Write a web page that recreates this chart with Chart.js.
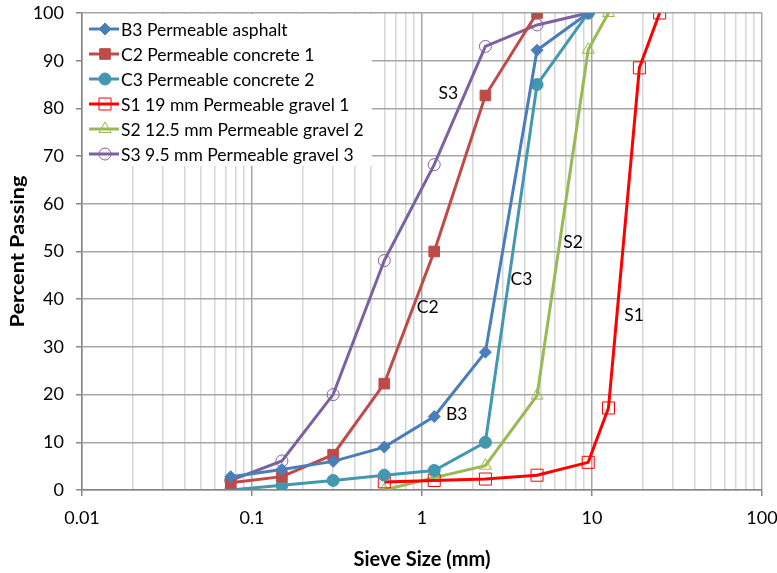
<!DOCTYPE html>
<html>
<head>
<meta charset="utf-8">
<script src="https://cdn.jsdelivr.net/npm/chart.js@4.4.1/dist/chart.umd.min.js"></script>
<style>
  body { margin: 0; background: #fff; }
</style>
</head>
<body>
<canvas id="gradation" width="777" height="573"></canvas>
<script>
// Sieve sizes (mm) and percent passing
const sieveB3 = [0.075, 0.15, 0.3, 0.6, 1.18, 2.36, 4.75, 9.5];
const passB3 = [2.8, 4.3, 6, 9, 15.4, 28.9, 92.2, 100];

const sieveC2 = [0.075, 0.15, 0.3, 0.6, 1.18, 2.36, 4.75];
const passC2 = [1.5, 2.8, 7.4, 22.3, 50, 82.7, 100];

const sieveC3 = [0.075, 0.15, 0.3, 0.6, 1.18, 2.36, 4.75, 9.5];
const passC3 = [0, 1, 2, 3.1, 4.1, 10, 85, 100];

const sieveS1 = [0.6, 1.18, 2.36, 4.75, 9.5, 12.5, 19, 25];
const passS1 = [1.7, 2, 2.3, 3.1, 5.8, 17.2, 88.5, 100];

const sieveS2 = [0.6, 1.18, 2.36, 4.75, 9.5, 12.5];
const passS2 = [0, 2.6, 5.1, 19.8, 92.3, 100];

const sieveS3 = [0.075, 0.15, 0.3, 0.6, 1.18, 2.36, 4.75, 9.5];
const passS3 = [2, 6.1, 20, 48.1, 68.2, 93, 97.5, 100];

const seriesNames = [
  'B3 Permeable asphalt',
  'C2 Permeable concrete 1',
  'C3 Permeable concrete 2',
  'S1 19 mm Permeable gravel 1',
  'S2 12.5 mm Permeable gravel 2',
  'S3 9.5 mm Permeable gravel 3'
];

const xDecades = [0.01, 0.1, 1, 10, 100];
const yTicks = [0, 10, 20, 30, 40, 50, 60, 70, 80, 90, 100];

const xTitle = 'Sieve Size (mm)';
const yTitle = 'Percent Passing';

// curve labels written on the plot
const curveLabels = [
  { text: 'S3', x: 1.43, y: 83.2 },
  { text: 'C2', x: 1.08, y: 38.2 },
  { text: 'C3', x: 3.85, y: 44.1 },
  { text: 'S2', x: 7.75, y: 51.9 },
  { text: 'S1', x: 17.7, y: 36.7 },
  { text: 'B3', x: 1.6, y: 15.8 }
];

const FONT = 'Lato, "Open Sans", sans-serif';

function pts(xs, ys) {
  return xs.map((x, i) => ({ x: x, y: ys[i] }));
}

const datasets = [
  { label: seriesNames[0], data: pts(sieveB3, passB3), borderColor: '#4a7ebb',
    pointStyle: 'rectRot', pointRadius: 6, pointBackgroundColor: '#4a7ebb', pointBorderColor: '#4a7ebb', pointBorderWidth: 1 },
  { label: seriesNames[1], data: pts(sieveC2, passC2), borderColor: '#be4b48',
    pointStyle: 'rect', pointRadius: 7.5, pointBackgroundColor: '#be4b48', pointBorderColor: '#be4b48', pointBorderWidth: 1 },
  { label: seriesNames[2], data: pts(sieveC3, passC3), borderColor: '#4198af',
    pointStyle: 'circle', pointRadius: 6, pointBackgroundColor: '#4198af', pointBorderColor: '#4198af', pointBorderWidth: 1 },
  { label: seriesNames[3], data: pts(sieveS1, passS1), borderColor: '#ff0000',
    pointStyle: 'rect', pointRadius: 8.5, pointBackgroundColor: 'rgba(0,0,0,0)', pointBorderColor: '#ff0000', pointBorderWidth: 1 },
  { label: seriesNames[4], data: pts(sieveS2, passS2), borderColor: '#98b954',
    pointStyle: 'triangle', pointRadius: 7, pointBackgroundColor: 'rgba(0,0,0,0)', pointBorderColor: '#98b954', pointBorderWidth: 1 },
  { label: seriesNames[5], data: pts(sieveS3, passS3), borderColor: '#7d60a0',
    pointStyle: 'circle', pointRadius: 6, pointBackgroundColor: 'rgba(0,0,0,0)', pointBorderColor: '#7d60a0', pointBorderWidth: 1 }
];
datasets.forEach(d => { d.borderWidth = 3; d.tension = 0; d.fill = false; });

// legend drawn inside the plot, on a white box over the grid
const insideLegend = {
  id: 'insideLegend',
  beforeDatasetsDraw(chart) {
    const ctx = chart.ctx;
    const a = chart.chartArea;
    ctx.save();
    ctx.fillStyle = '#fff';
    ctx.fillRect(a.left + 1, a.top + 1, 289, 152);
    chart.data.datasets.forEach((d, i) => {
      const y = a.top + 16 + i * 25;
      ctx.strokeStyle = d.borderColor;
      ctx.lineWidth = 3;
      ctx.beginPath();
      ctx.moveTo(a.left + 7, y);
      ctx.lineTo(a.left + 37, y);
      ctx.stroke();
      ctx.fillStyle = d.pointBackgroundColor;
      ctx.strokeStyle = d.pointBorderColor;
      ctx.lineWidth = d.pointBorderWidth;
      Chart.helpers.drawPoint(ctx, {
        pointStyle: d.pointStyle, radius: d.pointRadius, rotation: 0, borderWidth: d.pointBorderWidth
      }, a.left + 23, y);
      ctx.fillStyle = '#000';
      ctx.font = '17.5px ' + FONT;
      ctx.textAlign = 'left';
      ctx.textBaseline = 'middle';
      ctx.fillText(d.label, a.left + 39, y + 1);
    });
    ctx.restore();
  }
};

// curve names and the axis titles (the y title is drawn stretched along its length)
const chartText = {
  id: 'chartText',
  afterDatasetsDraw(chart) {
    const ctx = chart.ctx;
    const a = chart.chartArea;
    ctx.save();
    ctx.fillStyle = '#000';
    ctx.font = '17.5px ' + FONT;
    ctx.textAlign = 'center';
    ctx.textBaseline = 'middle';
    curveLabels.forEach(l => {
      ctx.fillText(l.text, chart.scales.x.getPixelForValue(l.x), chart.scales.y.getPixelForValue(l.y));
    });

    ctx.font = 'bold 20px ' + FONT;
    ctx.fillText(xTitle, (a.left + a.right) / 2, 560);

    ctx.font = 'bold 18px ' + FONT;
    const w = ctx.measureText(yTitle).width;
    ctx.translate(18, (a.top + a.bottom) / 2);
    ctx.rotate(-Math.PI / 2);
    ctx.scale(152 / w, 1);
    ctx.fillText(yTitle, 0, 0);
    ctx.restore();
  }
};

const isDecade = v => xDecades.some(d => Math.abs(v - d) < d * 1e-6);

new Chart(document.getElementById('gradation'), {
  type: 'line',
  data: { datasets: datasets },
  plugins: [insideLegend, chartText],
  options: {
    responsive: false,
    animation: false,
    layout: { padding: { top: 13, right: 15, left: 0, bottom: 0 } },
    plugins: {
      legend: { display: false },
      tooltip: { enabled: false }
    },
    scales: {
      x: {
        type: 'logarithmic',
        min: 0.01,
        max: 100,
        afterBuildTicks(axis) {
          const ticks = [];
          xDecades.forEach((d, i) => {
            ticks.push({ value: d });
            if (i < xDecades.length - 1) {
              for (let m = 2; m <= 9; m++) ticks.push({ value: d * m });
            }
          });
          axis.ticks = ticks;
        },
        afterFit(axis) {
          axis.height = 83;
          axis.paddingLeft = 0;
          axis.paddingRight = 0;
        },
        ticks: {
          autoSkip: false,
          maxRotation: 0,
          padding: 11,
          color: '#000',
          font: { family: FONT, size: 18 },
          callback: v => isDecade(v) ? String(xDecades.find(d => Math.abs(v - d) < d * 1e-6)) : ''
        },
        grid: {
          color: c => isDecade(c.tick.value) ? '#a6a6a6' : '#d6d6d6',
          lineWidth: 1.5,
          tickLength: 6,
          tickColor: c => isDecade(c.tick.value) ? '#868686' : 'rgba(0,0,0,0)'
        },
        border: { color: '#868686', width: 1.5 }
      },
      y: {
        min: 0,
        max: 100,
        afterBuildTicks(axis) { axis.ticks = yTicks.map(v => ({ value: v })); },
        afterFit(axis) {
          axis.width = 82;
          axis.paddingTop = 0;
          axis.paddingBottom = 0;
        },
        ticks: {
          padding: 12,
          color: '#000',
          font: { family: FONT, size: 18 }
        },
        grid: { color: '#a6a6a6', lineWidth: 1.5, tickLength: 6, tickColor: '#868686' },
        border: { color: '#868686', width: 1.5 }
      }
    }
  }
});
</script>
</body>
</html>
